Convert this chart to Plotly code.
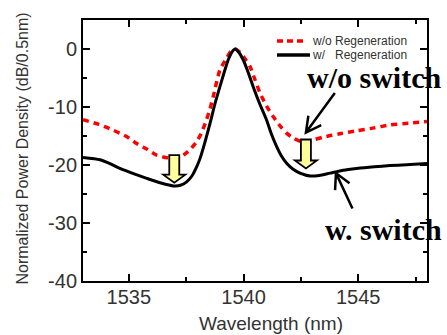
import math
import plotly.graph_objects as go

# Spectra: wavelength (nm) and normalized power density (dB/0.5nm)
wl_wo = [1533.0, 1533.7, 1534.32, 1534.9, 1535.34, 1535.8, 1536.21, 1536.6, 1536.94, 1537.3,
         1537.66, 1537.95, 1538.15, 1538.35, 1538.54, 1538.68, 1538.97, 1539.26, 1539.45,
         1539.63, 1539.85, 1540.05, 1540.28, 1540.5, 1540.72, 1541.0, 1541.3, 1541.6, 1541.88,
         1542.15, 1542.46, 1542.75, 1543.1, 1543.47, 1544.2, 1544.93, 1545.7, 1546.38, 1547.2, 1548.0]
pd_wo = [-12.2, -13.0, -14.0, -15.1, -16.3, -17.3, -18.3, -18.7, -18.85, -18.5,
         -17.4, -16.0, -14.6, -12.6, -10.3, -8.2, -3.6, -1.6, -0.4,
         0.0, -0.6, -1.6, -3.0, -5.3, -7.6, -9.8, -11.7, -13.3, -14.5,
         -15.3, -15.9, -16.0, -15.6, -15.2, -14.6, -14.1, -13.6, -13.1, -12.8, -12.5]

wl_w = [1533.0, 1533.74, 1534.2, 1534.61, 1535.2, 1535.78, 1536.4, 1536.94, 1537.25, 1537.52,
        1537.75, 1537.96, 1538.1, 1538.3, 1538.54, 1538.75, 1538.97, 1539.15, 1539.33, 1539.5,
        1539.63, 1539.8, 1539.99, 1540.2, 1540.42, 1540.7, 1541.0, 1541.22, 1541.44, 1541.66,
        1541.88, 1542.15, 1542.46, 1542.9, 1543.3, 1543.77, 1544.35, 1544.93, 1545.7, 1546.38, 1547.1, 1547.83, 1548.0]
pd_w = [-18.7, -19.1, -19.8, -20.6, -21.5, -22.3, -23.1, -23.6, -23.5, -22.9,
        -21.9, -20.3, -18.9, -16.3, -12.8, -9.5, -6.5, -4.1, -1.9, -0.5,
        0.0, -0.6, -1.9, -4.0, -6.5, -9.4, -12.2, -14.7, -16.8, -18.5,
        -19.7, -20.7, -21.4, -21.9, -21.8, -21.4, -20.9, -20.6, -20.3, -20.1, -19.95, -19.8, -19.75]

name_wo = "w/o Regeneration"
name_w = "w/\u00a0\u00a0\u00a0Regeneration"

x_ticks = [1535, 1540, 1545]
y_ticks = [0, -10, -20, -30, -40]

# Yellow arrows: wavelength, top level and tip level (dB)
drop_wl = [1536.98, 1542.72]
drop_top = [-18.3, -15.6]
drop_tip = [-23.05, -20.6]

# Callout arrows (tail -> tip, in data units) and their labels
call_tail = [(1543.98, -7.6), (1544.75, -27.5)]
call_tip = [(1542.72, -14.4), (1544.03, -21.4)]
call_text = ["w/o switch", "w. switch"]
call_text_pos = [(1542.66, -4.9), (1543.46, -31.1)]

W, H = 447, 335
ML, MR, MT, MB = 83, 20, 20, 54
XR = [1533, 1548]
YR = [-40, 5]
pw, ph = W - ML - MR, H - MT - MB
kx = pw / (XR[1] - XR[0])   # px per nm
ky = ph / (YR[1] - YR[0])   # px per dB

fig = go.Figure()
fig.add_trace(go.Scatter(x=wl_wo, y=pd_wo, mode="lines", name=name_wo, showlegend=False,
                         line=dict(color="#ff0000", width=3.5, dash="6px,5px", shape="spline", smoothing=0.6)))
fig.add_trace(go.Scatter(x=wl_w, y=pd_w, mode="lines", name=name_w, showlegend=False,
                         line=dict(color="#000000", width=3, shape="spline", smoothing=0.6)))

shapes = []
# yellow block arrows marking the drop between the two spectra
sw, hw, hl = 5 / kx, 11 / kx, 8 / ky
for xc, yt, yb in zip(drop_wl, drop_top, drop_tip):
    yh = yb + hl
    path = (f"M{xc - sw},{yt} L{xc + sw},{yt} L{xc + sw},{yh} L{xc + hw},{yh} "
            f"L{xc},{yb} L{xc - hw},{yh} L{xc - sw},{yh} Z")
    shapes.append(dict(type="path", path=path, xref="x", yref="y",
                       fillcolor="#ffff9c", line=dict(color="#000000", width=1.8), layer="above"))

# open V-headed black callout arrows
for (tx, ty), (hx, hy) in zip(call_tail, call_tip):
    dxp, dyp = (hx - tx) * kx, (hy - ty) * ky
    L = math.hypot(dxp, dyp)
    ux, uy = dxp / L, dyp / L
    wing = 17
    pts = []
    for ang in (math.radians(28), -math.radians(28)):
        c, s = math.cos(ang), math.sin(ang)
        bx, by = -(ux * c - uy * s), -(ux * s + uy * c)
        pts.append((hx + bx * wing / kx, hy + by * wing / ky))
    path = (f"M{tx},{ty} L{hx},{hy} M{pts[0][0]},{pts[0][1]} L{hx},{hy} L{pts[1][0]},{pts[1][1]}")
    shapes.append(dict(type="path", path=path, xref="x", yref="y",
                       line=dict(color="#000000", width=2.5), layer="above"))


def px_x(p):
    return (p - ML) / pw


def px_y(p):
    return 1 - (p - MT) / ph


# legend keys
shapes.append(dict(type="line", xref="paper", yref="paper", x0=px_x(277), x1=px_x(305),
                   y0=px_y(41), y1=px_y(41), line=dict(color="#ff0000", width=3.5, dash="6px,4px")))
shapes.append(dict(type="line", xref="paper", yref="paper", x0=px_x(277), x1=px_x(310),
                   y0=px_y(55), y1=px_y(55), line=dict(color="#000000", width=3.5)))

annotations = []
for nm, yp in ((name_wo, 41), (name_w, 55)):
    annotations.append(dict(text=nm, xref="paper", yref="paper", x=px_x(310), y=px_y(yp),
                            xanchor="left", yanchor="middle", showarrow=False,
                            font=dict(family="Liberation Sans", size=12, color="#333333")))
for t, (x, y) in zip(call_text, call_text_pos):
    annotations.append(dict(text=f"<b>{t}</b>", x=x, y=y, xref="x", yref="y", xanchor="left",
                            yanchor="middle", showarrow=False,
                            font=dict(family="Liberation Serif", size=30, color="#000000")))
annotations.append(dict(text="Wavelength (nm)", xref="paper", yref="paper", x=px_x(270.5), y=px_y(323),
                        xanchor="center", yanchor="middle", showarrow=False,
                        font=dict(family="Liberation Sans", size=19, color="#333333")))
annotations.append(dict(text="Normalized Power Density (dB/0.5nm)", xref="paper", yref="paper",
                        x=px_x(22), y=px_y(148.5), xanchor="center", yanchor="middle",
                        textangle=-90, showarrow=False,
                        font=dict(family="Liberation Sans", size=16, color="#333333")))

axis_common = dict(showgrid=False, zeroline=False, showline=True, linecolor="#000000", linewidth=2,
                   mirror="ticks", ticks="inside", ticklen=7, tickwidth=1.5, tickcolor="#000000",
                   tickfont=dict(family="Liberation Sans", size=20, color="#333333"))

fig.update_layout(
    width=W, height=H, margin=dict(l=ML, r=MR, t=MT, b=MB),
    paper_bgcolor="white", plot_bgcolor="white",
    xaxis=dict(range=XR, tickvals=x_ticks, ticktext=[str(v) for v in x_ticks], ticklabelstandoff=-3,
               minor=dict(dtick=2.5, tick0=1535, ticks="inside", ticklen=4, tickwidth=1.5,
                          tickcolor="#000000"), **axis_common),
    yaxis=dict(range=YR, tickvals=y_ticks, ticktext=[str(v) for v in y_ticks],
               minor=dict(dtick=5, tick0=0, ticks="inside", ticklen=4, tickwidth=1.5,
                          tickcolor="#000000"), **axis_common),
    shapes=shapes, annotations=annotations, showlegend=False,
)

fig.write_html("out.html")
